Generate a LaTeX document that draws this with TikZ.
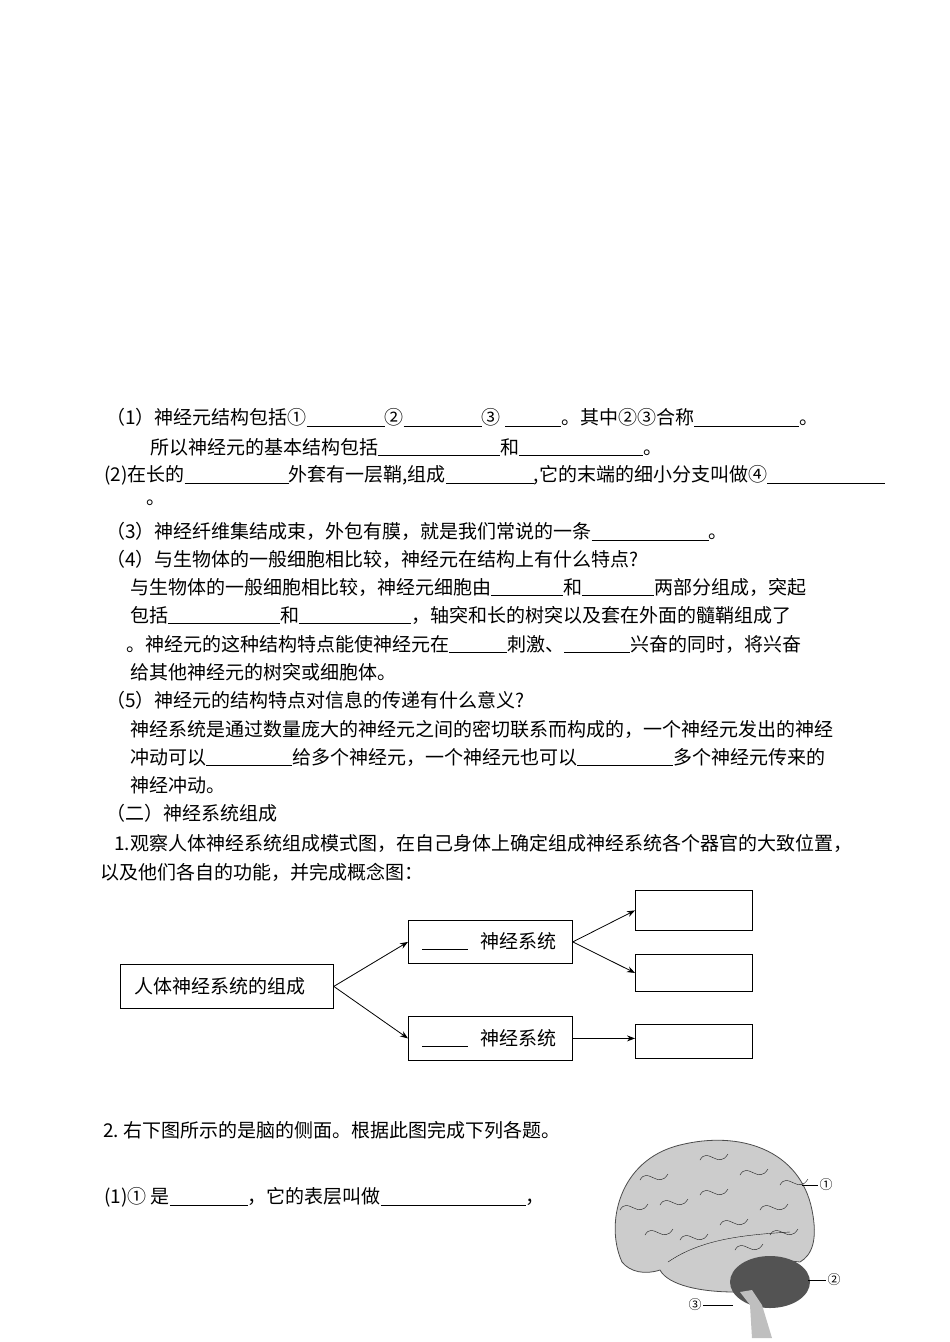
\documentclass[tikz,border=0pt]{standalone}
\usepackage{fontspec}
\setmainfont{Noto Sans CJK SC}
\usetikzlibrary{arrows.meta}
\newcommand{\bl}[1]{\rule[-2pt]{#1pt}{0.6pt}}
\begin{document}
\begin{tikzpicture}[x=1pt,y=-1pt,
  tx/.style={anchor=west,inner sep=0pt,font=\fontsize{19}{20}\selectfont},
  bx/.style={draw,thick,inner sep=0pt,anchor=north west},
  ar/.style={-{Stealth[length=8pt,width=6pt]},thick}]
\useasboundingbox (0,0) rectangle (950,1342);
\node[tx] (l1) at (106,417) {（1）神经元结构包括①\bl{78}②\bl{78}③ \bl{56}。其中②③合称\bl{105}。};
\node[tx] (l2) at (150,447) {所以神经元的基本结构包括\bl{122}和\bl{124}。};
\node[tx] (l3) at (104,475) {(2)在长的\bl{104}外套有一层鞘,组成\bl{88},它的末端的细小分支叫做④\bl{118}};
\node[tx] (l3b) at (146,503) {。};
\node[tx] (l4) at (106,531) {（3）神经纤维集结成束，外包有膜，就是我们常说的一条\bl{117}。};
\node[tx] (l5) at (106,559) {（4）与生物体的一般细胞相比较，神经元在结构上有什么特点?};
\node[tx] (l6) at (130,587) {与生物体的一般细胞相比较，神经元细胞由\bl{72}和\bl{72}两部分组成，突起};
\node[tx] (l7) at (130,615) {包括\bl{112}和\bl{112}，轴突和长的树突以及套在外面的髓鞘组成了};
\node[tx] (l8) at (126,644) {。神经元的这种结构特点能使神经元在\bl{58}刺激、\bl{66}兴奋的同时，将兴奋};
\node[tx] (l9) at (130,672) {给其他神经元的树突或细胞体。};
\node[tx] (l10) at (106,700) {（5）神经元的结构特点对信息的传递有什么意义?};
\node[tx] (l11) at (130,729) {神经系统是通过数量庞大的神经元之间的密切联系而构成的，一个神经元发出的神经};
\node[tx] (l12) at (130,757) {冲动可以\bl{86}给多个神经元，一个神经元也可以\bl{96}多个神经元传来的};
\node[tx] (l13) at (130,785) {神经冲动。};
\node[tx] (l14) at (106,813) {（二）神经系统组成};
\node[tx] (l15) at (114,843) {1.观察人体神经系统组成模式图，在自己身体上确定组成神经系统各个器官的大致位置，};
\node[tx] (l16) at (100,872) {以及他们各自的功能，并完成概念图：};
% concept map
\node[bx,minimum width=213pt,minimum height=44pt] (root) at (120,964) {};
\node[tx] (roott) at (134,986) {人体神经系统的组成};
\node[bx,minimum width=164pt,minimum height=43pt] (up) at (408,920) {};
\node[tx] (upt) at (422,941) {\bl{46}\hspace{12pt}神经系统};
\node[bx,minimum width=164pt,minimum height=44pt] (dn) at (408,1016) {};
\node[tx] (dnt) at (422,1038) {\bl{46}\hspace{12pt}神经系统};
\node[bx,minimum width=117pt,minimum height=40pt] (r1) at (635,890) {};
\node[bx,minimum width=117pt,minimum height=37pt] (r2) at (635,954) {};
\node[bx,minimum width=117pt,minimum height=34pt] (r3) at (635,1024) {};
\draw[ar] (root.east) -- (up.west);
\draw[ar] (root.east) -- (dn.west);
\draw[ar] (up.east) -- (r1.west);
\draw[ar] (up.east) -- (r2.west);
\draw[ar] (dn.east) -- (dn.east -| r3.west);
\node[tx] (q2) at (103,1130) {2.\ 右下图所示的是脑的侧面。根据此图完成下列各题。};
\node[tx] (q21) at (104,1197) {(1)① 是\bl{78}，它的表层叫做\bl{145}，};
% brain
\fill[gray!40,draw=gray!60!black,thick] (622,1262) .. controls (605,1225) and (618,1160) .. (680,1145)
  .. controls (740,1130) and (800,1150) .. (812,1210)
  .. controls (818,1240) and (812,1255) .. (800,1262)
  .. controls (770,1258) and (745,1265) .. (735,1292)
  .. controls (700,1292) and (668,1285) .. (660,1270)
  .. controls (645,1275) and (630,1272) .. (622,1262) -- cycle;
\foreach \a/\b in {640/1180,660/1205,700/1160,740/1175,760/1210,680/1240,720/1225,780/1185,645/1235,700/1195,735/1250,770/1235,620/1210}{
  \draw[gray!20!black,thin] (\a,\b) .. controls (\a+8,\b-14) and (\a+18,\b+10) .. (\a+28,\b-6);}
\draw[gray!20!black] (668,1262) .. controls (700,1240) and (740,1235) .. (790,1232);
\fill[gray!65!black] (770,1282) ellipse (40 and 26);
\fill[gray!50] (740,1292) -- (750,1305) -- (752,1338) -- (772,1338) -- (762,1305) -- (752,1290) -- cycle;
\coordinate (p1) at (802,1185);
\coordinate (p2) at (808,1280);
\coordinate (p3) at (733,1305);
\node[inner sep=1pt,font=\fontsize{13}{13}\selectfont] (c1) at (826,1185) {①};
\node[inner sep=1pt,font=\fontsize{13}{13}\selectfont] (c2) at (834,1280) {②};
\node[inner sep=1pt,font=\fontsize{13}{13}\selectfont] (c3) at (695,1305) {③};
\draw (p1) -- (c1);
\draw (p2) -- (c2);
\draw (p3) -- (c3);
\end{tikzpicture}
\end{document}
